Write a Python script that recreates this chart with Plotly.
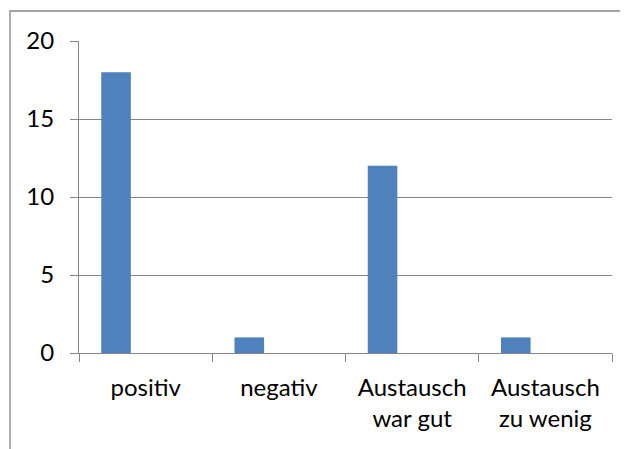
import plotly.graph_objects as go

categories = ["positiv", "negativ", "Austausch<br>war gut", "Austausch<br>zu wenig"]
values = [18, 1, 12, 1]
y_ticks = [0, 5, 10, 15, 20]

W, H = 628, 449
OFF = 8  # page body margin
# desired plot area in screen pixels
PX0, PX1, PY0, PY1 = 79, 612, 41, 353
L, R = PX0 - OFF, W - (PX1 - OFF)
T, B = PY0 - OFF, H - (PY1 - OFF)
PW, PH = PX1 - PX0, PY1 - PY0

fig = go.Figure()
fig.add_trace(go.Bar(
    x=categories, y=values,
    width=0.222, offset=-0.333,
    marker=dict(color="#4F81BD", line=dict(width=0)),
))

font = dict(family="Lato, 'Open Sans', sans-serif", size=24, color="#000000")
grey = "#868686"

fig.update_layout(
    width=W, height=H,
    margin=dict(l=L, r=R, t=T, b=B, pad=0),
    paper_bgcolor="white", plot_bgcolor="white",
    showlegend=False,
    font=font,
    xaxis=dict(
        type="category", range=[-0.5, 3.5],
        showline=True, linecolor=grey, linewidth=1,
        ticks="outside", tickson="boundaries", ticklen=8, tickcolor=grey, tickwidth=1,
        showgrid=False, tickfont=font, fixedrange=True, ticklabelstandoff=13,
    ),
    yaxis=dict(
        range=[0, 20], tickvals=y_ticks,
        showline=True, linecolor=grey, linewidth=1,
        ticks="outside", ticklen=8, tickcolor=grey, tickwidth=1,
        showgrid=True, gridcolor=grey, gridwidth=1,
        zeroline=False, tickfont=font, ticklabelstandoff=11,
    ),
    shapes=[dict(
        type="rect", xref="paper", yref="paper",
        x0=(10 - PX0) / PW, x1=1.3,
        y0=-0.5, y1=1 + (PY0 - 11) / PH,
        line=dict(color=grey, width=1.3), fillcolor="rgba(0,0,0,0)",
        layer="below",
    )],
)

fig.write_html("out.html")
